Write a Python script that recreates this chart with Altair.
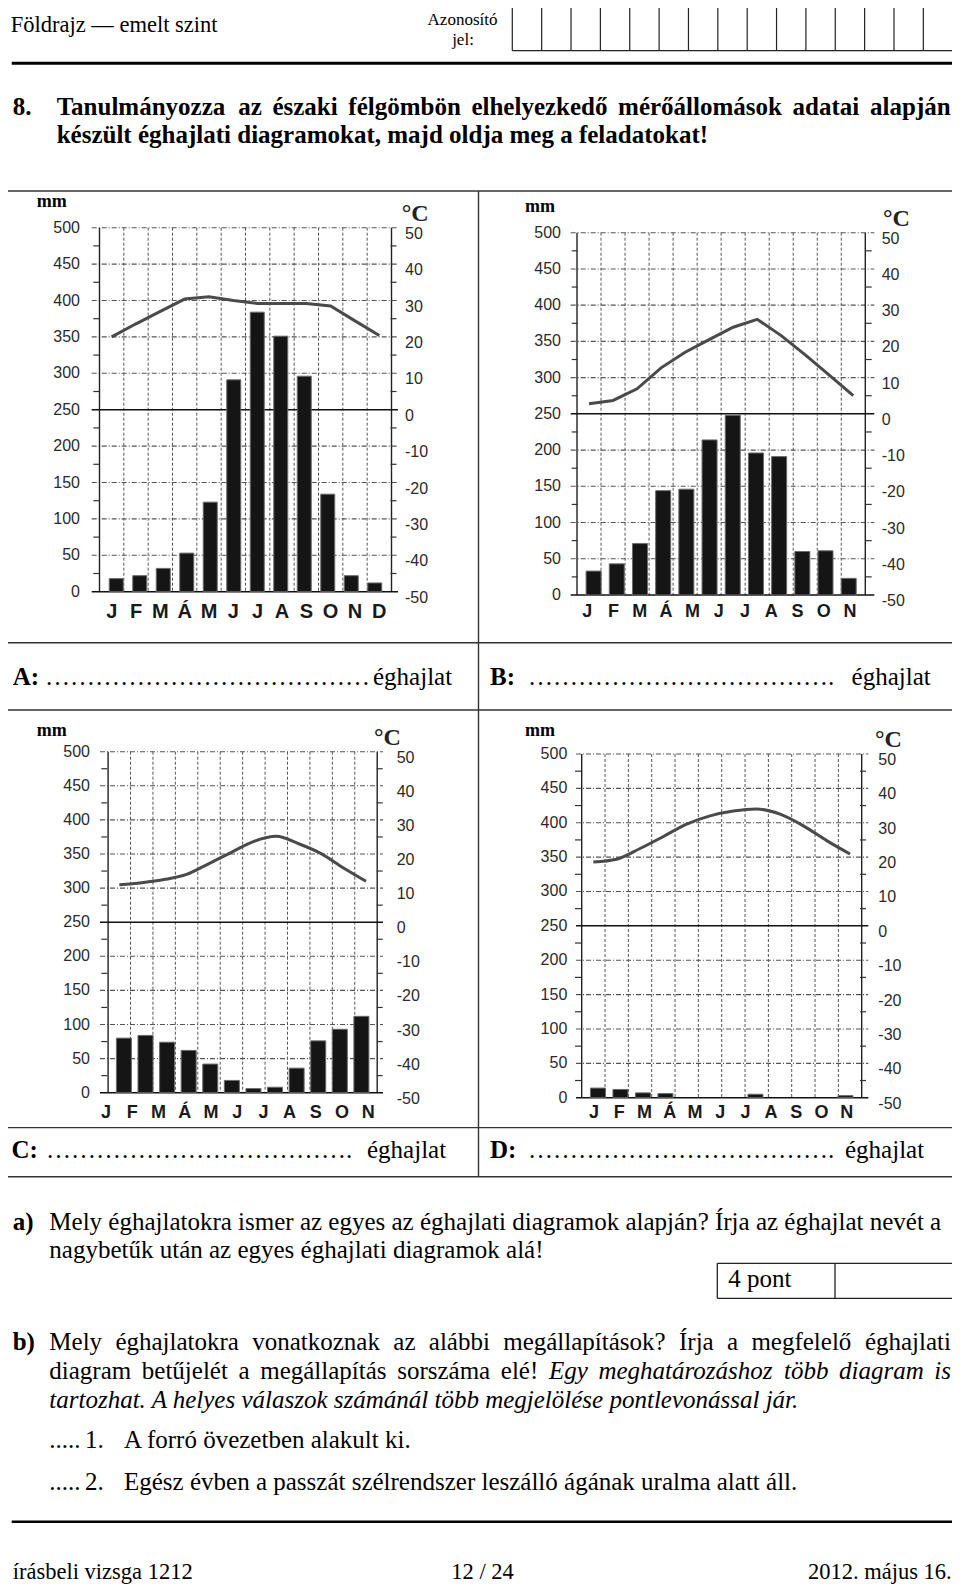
import altair as alt
import pandas as pd

# ---------------- chart data ----------------
MONTHS_12 = ["J", "F", "M", "Á", "M", "J", "J", "A", "S", "O", "N", "D"]
MONTHS_11 = ["J", "F", "M", "Á", "M", "J", "J", "A", "S", "O", "N"]
MONTH_INDEX = list(range(12))

PREC_A = [18, 22, 32, 53, 123, 291, 384, 351, 296, 134, 22, 12]
TEMP_A = [20.0, 23.6, 27.0, 30.4, 31.0, 30.0, 29.2, 29.2, 29.2, 28.5, 24.4, 20.4]

PREC_B = [33, 43, 71, 144, 146, 214, 248, 196, 191, 60, 61, 23]
TEMP_B = [2.8, 3.7, 6.9, 12.7, 17.0, 20.5, 23.9, 26.1, 21.6, 16.3, 10.7, 5.0]

PREC_C = [80, 84, 74, 62, 42, 18, 6, 8, 36, 76, 93, 112]
TEMP_C = [11.0, 11.6, 12.5, 14.0, 17.2, 20.5, 23.7, 25.2, 23.0, 20.1, 15.9, 12.0]

PREC_D = [14, 12, 7, 6, 0, 0, 0, 5, 0, 0, 0, 3]
TEMP_D = [18.6, 19.4, 22.5, 26.0, 29.6, 32.0, 33.4, 34.0, 32.5, 29.1, 24.8, 20.9]

MM_TICKS = [0, 50, 100, 150, 200, 250, 300, 350, 400, 450, 500]
MM_MINOR = [25, 75, 125, 175, 225, 275, 325, 375, 425, 475]
C_TICKS = [-50, -40, -30, -20, -10, 0, 10, 20, 30, 40, 50]
MONTH_BOUNDS = [-0.5, 0.5, 1.5, 2.5, 3.5, 4.5, 5.5, 6.5, 7.5, 8.5, 9.5, 10.5, 11.5]

# ---------------- layout helpers ----------------
MARGIN = 8
SERIF = "Liberation Serif"
SANS = "Liberation Sans"


def p(v):
    return v - MARGIN


def text_layer(items, size, weight="normal", style="normal", align="left",
               font=SERIF, color="#000", baseline="alphabetic"):
    df = pd.DataFrame([{"x": p(x), "y": p(y), "s": s} for s, x, y in items])
    return alt.Chart(df).mark_text(
        font=font, fontSize=size, fontWeight=weight, fontStyle=style,
        align=align, baseline=baseline, color=color
    ).encode(
        x=alt.X("x:Q", scale=None, axis=None),
        y=alt.Y("y:Q", scale=None, axis=None),
        text="s:N",
    )


def rule_layer(segs, width=1.0, color="#000", dash=None):
    df = pd.DataFrame([{"x": p(a), "y": p(b), "x2": p(c), "y2": p(d)} for a, b, c, d in segs])
    kw = dict(color=color, strokeWidth=width)
    if dash:
        kw["strokeDash"] = dash
    return alt.Chart(df).mark_rule(**kw).encode(
        x=alt.X("x:Q", scale=None, axis=None),
        y=alt.Y("y:Q", scale=None, axis=None),
        x2="x2:Q",
        y2="y2:Q",
    )


def climate(cfg):
    xsc = alt.Scale(domain=[-0.5, 11.5], range=[p(cfg["bx"][0]), p(cfg["bx"][1])], nice=False, zero=False)
    ysc = alt.Scale(domain=[0, 500], range=[p(cfg["y0"]), p(cfg["y500"])], nice=False, zero=False)
    tsc = alt.Scale(domain=[-50, 50], range=[p(cfg["y0"]), p(cfg["y500"])], nice=False, zero=False)
    labels = cfg["labels"]
    lsc = alt.Scale(domain=[0, len(labels) - 1], range=[p(cfg["lab"][0]), p(cfg["lab"][1])], nice=False, zero=False)
    gx0, gx1 = cfg["gx"]
    layers = []

    grid_vals = [v for v in MM_TICKS if v not in (0, 250)]
    layers.append(alt.Chart(pd.DataFrame({"v": grid_vals})).mark_rule(
        color="#555", strokeWidth=1.1, strokeDash=[5, 2, 1, 2]).encode(
        y=alt.Y("v:Q", scale=ysc, axis=None), x=alt.value(p(gx0)), x2=alt.value(p(gx1))))
    layers.append(alt.Chart(pd.DataFrame({"b": MONTH_BOUNDS[1:-1]})).mark_rule(
        color="#555", strokeWidth=1, strokeDash=[3, 2]).encode(
        x=alt.X("b:Q", scale=xsc, axis=None), y=alt.value(p(cfg["y500"])), y2=alt.value(p(cfg["y0"]))))
    layers.append(alt.Chart(pd.DataFrame({"b": [MONTH_BOUNDS[0], MONTH_BOUNDS[-1]]})).mark_rule(
        color="#222", strokeWidth=1.4).encode(
        x=alt.X("b:Q", scale=xsc, axis=None), y=alt.value(p(cfg["y500"])), y2=alt.value(p(cfg["y0"]))))
    layers.append(alt.Chart(pd.DataFrame({"v": [0, 250]})).mark_rule(
        color="#111", strokeWidth=1.5).encode(
        y=alt.Y("v:Q", scale=ysc, axis=None), x=alt.value(p(gx0)), x2=alt.value(p(gx1))))
    layers.append(alt.Chart(pd.DataFrame({"v": MM_MINOR})).mark_rule(
        color="#333", strokeWidth=1.2).encode(
        y=alt.Y("v:Q", scale=ysc, axis=None), x=alt.value(p(cfg["axl"] - 6)), x2=alt.value(p(cfg["axl"]))))
    layers.append(alt.Chart(pd.DataFrame({"v": MM_MINOR})).mark_rule(
        color="#333", strokeWidth=1.2).encode(
        y=alt.Y("v:Q", scale=ysc, axis=None), x=alt.value(p(cfg["axr"])), x2=alt.value(p(cfg["axr"] + 6))))

    bars = pd.DataFrame({"m": MONTH_INDEX, "p": cfg["prec"]})
    layers.append(alt.Chart(bars).transform_filter("datum.p > 0").mark_bar(
        size=cfg["bw"], color="#151515", stroke="#6a6a6a", strokeWidth=1, orient="vertical").encode(
        x=alt.X("m:Q", scale=xsc, axis=None), y=alt.Y("p:Q", scale=ysc, axis=None)))

    temps = pd.DataFrame({"m": MONTH_INDEX, "t": cfg["temp"]})
    layers.append(alt.Chart(temps).mark_line(
        color="#4a4a4a", strokeWidth=3, interpolate=cfg["interp"]).encode(
        x=alt.X("m:Q", scale=xsc, axis=None), y=alt.Y("t:Q", scale=tsc, axis=None)))

    layers.append(alt.Chart(pd.DataFrame({"v": MM_TICKS, "s": [str(v) for v in MM_TICKS]})).mark_text(
        font=SANS, fontSize=16, align="right", baseline="middle", color="#2a2a2a").encode(
        y=alt.Y("v:Q", scale=ysc, axis=None), x=alt.value(p(cfg["llx"])), text="s:N"))
    layers.append(alt.Chart(pd.DataFrame({"v": C_TICKS, "s": [str(v) for v in C_TICKS]})).mark_text(
        font=SANS, fontSize=16, align="left", baseline="middle", color="#2a2a2a", dy=6).encode(
        y=alt.Y("v:Q", scale=tsc, axis=None), x=alt.value(p(cfg["rlx"])), text="s:N"))
    layers.append(alt.Chart(pd.DataFrame({"i": list(range(len(labels))), "s": labels})).mark_text(
        font=SANS, fontSize=cfg["msize"], fontWeight="bold", align="center", baseline="middle", color="#1a1a1a").encode(
        x=alt.X("i:Q", scale=lsc, axis=None), y=alt.value(p(cfg["my"])), text="s:N"))

    layers.append(text_layer([("mm", cfg["mm"][0], cfg["mm"][1])], 18, weight="bold"))
    layers.append(text_layer([("°C", cfg["degc"][0], cfg["y500"] - 7)], 24, weight="bold", color="#222"))
    return layers


CHARTS = [
    dict(prec=PREC_A, temp=TEMP_A, labels=MONTHS_12, bx=(99.5, 391.5), y0=591.7, y500=227.7,
         gx=(91.7, 398), axl=99.3, axr=390.5, llx=80, rlx=405, lab=(111.7, 379.3), my=611.7,
         mm=(36.7, 206.7), degc=(401.7, 225), bw=14, interp="linear", msize=20),
    dict(prec=PREC_B, temp=TEMP_B, labels=MONTHS_11, bx=(577, 865.3), y0=595, y500=232.7,
         gx=(570.7, 874.3), axl=577.7, axr=865.7, llx=561, rlx=881.7, lab=(587.3, 850), my=611.7,
         mm=(525, 211.7), degc=(883, 231.7), bw=15, interp="linear", msize=18),
    dict(prec=PREC_C, temp=TEMP_C, labels=MONTHS_11, bx=(108.1, 377.2), y0=1092.7, y500=751.7,
         gx=(100, 383), axl=107.3, axr=376.7, llx=90, rlx=396.7, lab=(106, 368.3), my=1113,
         mm=(36.7, 736), degc=(374, 751.7), bw=15, interp="monotone", msize=18),
    dict(prec=PREC_D, temp=TEMP_D, labels=MONTHS_11, bx=(581.7, 861.7), y0=1097.7, y500=754,
         gx=(576, 868.3), axl=581, axr=860, llx=567.3, rlx=878.3, lab=(594, 846.7), my=1113,
         mm=(525, 736), degc=(875, 753.3), bw=15, interp="monotone", msize=18),
]

# ---------------- page furniture ----------------
layers = []

# ID boxes
bx0, bx1, by0, by1 = 512.3, 952.7, 3.3, 50.7
cell = (bx1 - bx0) / 15
id_segs = [(bx0 + i * cell, by0, bx0 + i * cell, by1) for i in range(16)]
id_segs += [(bx0, by0, bx1, by0), (bx0, by1, bx1, by1)]
layers.append(rule_layer(id_segs, width=1.2, color="#222"))

# heavy rules
layers.append(rule_layer([(11.7, 63.3, 952.7, 63.3)], width=3, color="#000"))
layers.append(rule_layer([(11.7, 1521.7, 952.7, 1521.7)], width=2.5, color="#000"))

# table lines
T_TOP, T_AB0, T_AB1, T_CD0, T_CD1 = 191, 642.7, 710, 1127.6, 1176.7
tbl = [(0.5, y, 955, y) for y in (T_TOP, T_AB0, T_AB1, T_CD0, T_CD1)]
tbl += [(0.5, T_TOP, 0.5, T_CD1), (478.5, T_TOP, 478.5, T_CD1), (955, T_TOP, 955, T_CD1)]
layers.append(rule_layer(tbl, width=1.4, color="#333"))

# points box
pb = [(717.3, 1263.3, 956, 1263.3), (717.3, 1298.3, 956, 1298.3),
      (717.3, 1263.3, 717.3, 1298.3), (835, 1263.3, 835, 1298.3), (956, 1263.3, 956, 1298.3)]
layers.append(rule_layer(pb, width=1.3, color="#222"))

# header / footer texts
FOOT = 1579
layers.append(text_layer([("Földrajz — emelt szint", 10.7, 31.7),
                          ("írásbeli vizsga 1212", 12.7, FOOT)], 22.5))
layers.append(text_layer([("12 / 24", 482.5, FOOT)], 22.5, align="center"))
layers.append(text_layer([("2012. május 16.", 951.7, FOOT)], 22.5, align="right"))
layers.append(text_layer([("Azonosító", 462.5, 25), ("jel:", 463, 44.5)], 17, align="center"))

# bold texts
L1, L2 = 115, 143.3
layers.append(text_layer([
    ("8.", 12.7, L1), ("Tanulmányozza", 56.7, L1), ("az", 238.2, L1), ("északi", 272.4, L1),
    ("félgömbön", 348.3, L1), ("elhelyezkedő", 471.4, L1), ("mérőállomások", 618.1, L1),
    ("adatai", 792.6, L1),
    ("készült éghajlati diagramokat, majd oldja meg a feladatokat!", 56.7, L2),
    ("A:", 12.7, 685), ("B:", 490, 685), ("C:", 11.5, 1158), ("D:", 490, 1158),
    ("a)", 12.7, 1230), ("b)", 12.7, 1350),
], 25, weight="bold"))
layers.append(text_layer([("alapján", 950.7, L1)], 25, weight="bold", align="right"))

# regular texts
B1, B2, B3 = 1350, 1379.3, 1407.7
DOTS13 = "…" * 13
DOTS12 = "…" * 12 + "."
layers.append(text_layer([
    (DOTS13, 45, 685), ("éghajlat", 373, 685),
    (DOTS12, 528, 685), ("éghajlat", 851.6, 685),
    (DOTS12, 46, 1158), ("éghajlat", 367, 1158),
    (DOTS12, 528, 1158), ("éghajlat", 845, 1158),
    ("Mely éghajlatokra ismer az egyes az éghajlati diagramok alapján? Írja az éghajlat nevét a", 49.3, 1230),
    ("nagybetűk után az egyes éghajlati diagramok alá!", 49.3, 1258.3),
    ("4 pont", 728.3, 1286.7),
    ("Mely", 49.3, B1), ("éghajlatokra", 115.4, B1), ("vonatkoznak", 252.2, B1), ("az", 393.3, B1),
    ("alábbi", 428.8, B1), ("megállapítások?", 503.2, B1), ("Írja", 679, B1), ("a", 727, B1),
    ("megfelelő", 751.4, B1),
    ("diagram", 49.3, B2), ("betűjelét", 141.8, B2), ("a", 238.5, B2), ("megállapítás", 260.2, B2),
    ("sorszáma", 397.2, B2), ("elé!", 500.8, B2),
    (".....", 49.3, 1448.3), ("1.", 85, 1448.3), ("A forró övezetben alakult ki.", 124, 1448.3),
    (".....", 49.3, 1490), ("2.", 85, 1490),
    ("Egész évben a passzát szélrendszer leszálló ágának uralma alatt áll.", 124, 1490),
], 25))
layers.append(text_layer([("éghajlati", 951, B1)], 25, align="right"))

# italic texts
layers.append(text_layer([
    ("Egy", 548.9, B2), ("meghatározáshoz", 598.4, B2), ("több", 784, B2), ("diagram", 839.1, B2),
    ("tartozhat. A helyes válaszok számánál több megjelölése pontlevonással jár.", 49.3, B3),
], 25, style="italic"))
layers.append(text_layer([("is", 951, B2)], 25, style="italic", align="right"))

# climate charts
for cfg in CHARTS:
    layers.extend(climate(cfg))

chart = alt.layer(*layers).resolve_scale(
    x="independent", y="independent"
).properties(
    width=944, height=1577, padding=0,
    autosize=alt.AutoSizeParams(type="none"),
    background="white",
).configure_view(strokeWidth=0)

chart.save("out.html", embed_options={"renderer": "svg", "actions": False})
